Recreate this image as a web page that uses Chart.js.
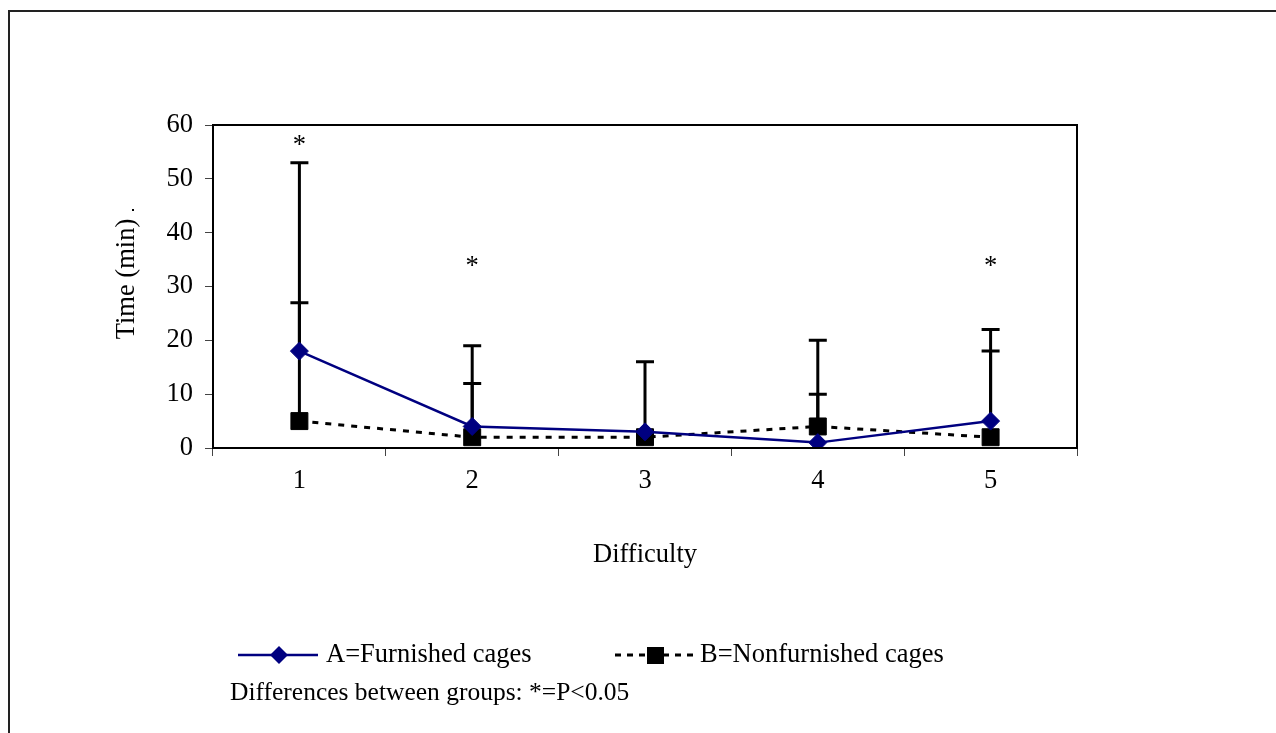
<!DOCTYPE html>
<html>
<head>
<meta charset="utf-8">
<script src="https://cdn.jsdelivr.net/npm/chart.js@4.4.1/dist/chart.umd.min.js"></script>
<style>
  html, body { margin: 0; padding: 0; background: #fff; }
  #wrap { position: relative; width: 1276px; height: 733px; }
  #frame { position: absolute; left: 8px; top: 10px; right: 0; bottom: 0; border-top: 2px solid #222; border-left: 2px solid #222; pointer-events: none; }
</style>
</head>
<body>
<div id="wrap">
  <canvas id="chart" width="1276" height="733"></canvas>
  <div id="frame"></div>
</div>
<script>
const difficulty = ["1", "2", "3", "4", "5"];
const furnished = [18, 4, 3, 1, 5];
const nonfurnished = [5, 2, 2, 4, 2];
// upper ends of the error bars
const furnishedTop = [27, 12, 16, 10, 22];
const nonfurnishedTop = [53, 19, 3, 20, 18];
// where the "*" marks sit (null = no significant difference)
const starLevel = [57, 34.5, null, null, 34.5];
const yTicks = [0, 10, 20, 30, 40, 50, 60];

const serif = "'Liberation Serif', 'Times New Roman', serif";
const fontSize = 26.5;
const font = { family: serif, size: fontSize };

const extras = {
  id: 'extras',
  beforeDatasetsDraw(chart) {
    const ctx = chart.ctx;
    const x = chart.scales.x, y = chart.scales.y;
    ctx.save();
    ctx.strokeStyle = '#000';
    ctx.lineWidth = 3;
    [[furnished, furnishedTop], [nonfurnished, nonfurnishedTop]].forEach(([means, tops]) => {
      means.forEach((m, i) => {
        const px = x.getPixelForValue(i);
        const y0 = y.getPixelForValue(m), y1 = y.getPixelForValue(tops[i]);
        ctx.beginPath();
        ctx.moveTo(px, y0); ctx.lineTo(px, y1);
        ctx.moveTo(px - 9, y1); ctx.lineTo(px + 9, y1);
        ctx.stroke();
      });
    });
    ctx.restore();
  },
  afterDraw(chart) {
    const ctx = chart.ctx;
    const a = chart.chartArea;
    const x = chart.scales.x, y = chart.scales.y;
    ctx.save();
    // plot box
    ctx.strokeStyle = '#000';
    ctx.lineWidth = 2;
    ctx.strokeRect(a.left, a.top, a.right - a.left, a.bottom - a.top);

    ctx.fillStyle = '#000';
    ctx.font = `${fontSize}px ${serif}`;
    ctx.textAlign = 'center';
    ctx.textBaseline = 'middle';

    // significance stars
    starLevel.forEach((v, i) => {
      if (v == null) return;
      ctx.fillText('*', x.getPixelForValue(i), y.getPixelForValue(v) + 5);
    });

    // y axis title, sits a little above the middle of the axis like in Excel
    ctx.save();
    ctx.translate(127, 279);
    ctx.rotate(-Math.PI / 2);
    ctx.fillText('Time (min)', 0, 0);
    ctx.restore();
    // stray full stop next to the axis title
    ctx.fillRect(132, 209, 2, 2);

    // legend
    const ly = 655;
    ctx.strokeStyle = '#000080';
    ctx.lineWidth = 2.5;
    ctx.beginPath(); ctx.moveTo(238, ly); ctx.lineTo(318, ly); ctx.stroke();
    ctx.fillStyle = '#000080';
    ctx.beginPath();
    ctx.moveTo(279, ly - 9); ctx.lineTo(288, ly); ctx.lineTo(279, ly + 9); ctx.lineTo(270, ly);
    ctx.closePath(); ctx.fill();

    ctx.strokeStyle = '#000';
    ctx.lineWidth = 3;
    ctx.setLineDash([6, 6]);
    ctx.beginPath(); ctx.moveTo(615, ly); ctx.lineTo(697, ly); ctx.stroke();
    ctx.setLineDash([]);
    ctx.fillStyle = '#000';
    ctx.fillRect(647, ly - 8, 17, 17);

    ctx.textAlign = 'left';
    ctx.fillText('A=Furnished cages', 326, ly);
    ctx.fillText('B=Nonfurnished cages', 700, ly);
    ctx.font = `25.5px ${serif}`;
    ctx.fillText('Differences between groups: *=P<0.05', 230, 693);
    ctx.restore();
  }
};

new Chart(document.getElementById('chart'), {
  type: 'line',
  data: {
    labels: difficulty,
    datasets: [
      {
        label: 'A=Furnished cages',
        data: furnished,
        borderColor: '#000080',
        backgroundColor: '#000080',
        borderWidth: 2.5,
        pointStyle: 'rectRot',
        pointRadius: 9,
        pointBorderWidth: 1,
        tension: 0,
      },
      {
        label: 'B=Nonfurnished cages',
        data: nonfurnished,
        borderColor: '#000',
        backgroundColor: '#000',
        borderWidth: 3,
        borderDash: [6, 7],
        pointStyle: 'rect',
        pointRadius: 12,
        pointBorderWidth: 1,
        tension: 0,
      }
    ]
  },
  options: {
    responsive: false,
    animation: false,
    layout: { padding: { left: 109, right: 199, top: 125, bottom: 158 } },
    plugins: { legend: { display: false }, tooltip: { enabled: false } },
    scales: {
      x: {
        offset: true,
        grid: { offset: true, drawOnChartArea: false, tickLength: 8, color: '#444', lineWidth: 1 },
        border: { color: '#000', width: 2 },
        ticks: { color: '#000', font: font, padding: 9, maxRotation: 0 },
        title: { display: true, text: 'Difficulty', color: '#000', font: font },
        afterFit(s) { s.height = 127; }
      },
      y: {
        min: 0,
        max: 60,
        afterBuildTicks(s) { s.ticks = yTicks.map(v => ({ value: v })); },
        grid: { drawOnChartArea: false, tickLength: 8, color: '#444', lineWidth: 1 },
        border: { color: '#000', width: 2 },
        ticks: { color: '#000', font: font, padding: 12 },
        afterFit(s) { s.width = 104; }
      }
    }
  },
  plugins: [extras]
});
</script>
</body>
</html>
